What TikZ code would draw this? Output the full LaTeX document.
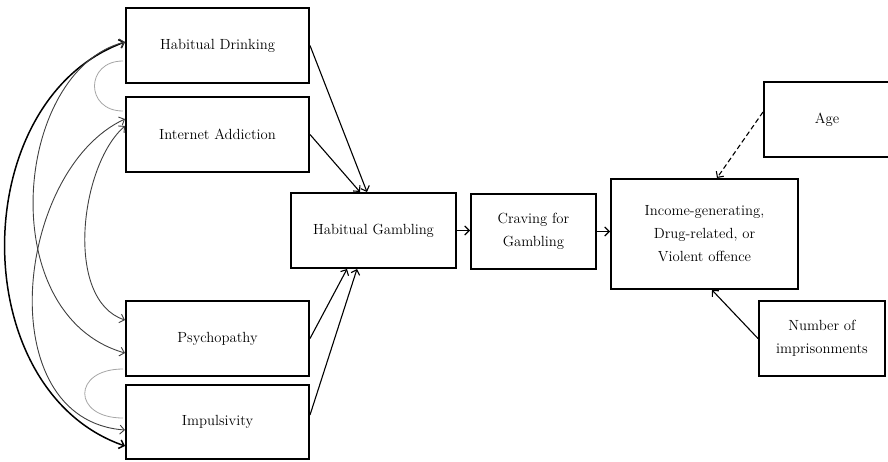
\documentclass[tikz,border=0pt]{standalone}
\usetikzlibrary{positioning,arrows.meta}

\begin{document}
\begin{tikzpicture}[
    x=1pt, y=-1pt, font=\fontsize{14.7}{23}\selectfont,
    >={Straight Barb[length=4.5pt,width=9pt]},
    box/.style={draw, line width=2pt, align=center, inner sep=0, minimum height=75},
    path/.style={->, line width=1.1pt},
    corr/.style={<->, line width=0.9pt, black!75},
    covar/.style={line width=0.8pt, black!35, shorten <=2, shorten >=2},
  ]
  \useasboundingbox (0,0) rectangle (888,461);

  % predictors
  \node[box, minimum width=183] (drink) at (217.5,45.5) {Habitual Drinking};
  \node[box, minimum width=183] (inet) at (217.5,134.5) {Internet Addiction};
  \node[box, minimum width=183] (psy) at (217.5,338.5) {Psychopathy};
  \node[box, minimum width=183, minimum height=74] (imp) at (217.5,422) {Impulsivity};

  \node[box, minimum width=165] (gamb) at (373.5,230.5) {Habitual Gambling};
  \node[box, minimum width=125] (crave) at (533.5,231.5) {Craving for\\Gambling};
  \node[box, minimum width=187, minimum height=110] (off) at (704.5,234)
    {Income-generating,\\Drug-related, or\\Violent offence};

  % covariates
  \node[box, minimum width=126] (age) at (827,119.5) {Age};
  \node[box, minimum width=126] (nimp) at (822,338.5) {Number of\\imprisonments};

  \draw[path] (drink.east) -- ([xshift=-6.5pt]gamb.north);
  \draw[path] (inet.east) -- ([xshift=-13.5pt]gamb.north);
  \draw[path] (psy.east) -- ([xshift=-26.5pt]gamb.south);
  \draw[path] ([yshift=7pt]imp.east) -- ([xshift=-16.5pt]gamb.south);
  \draw[path] (gamb.east) -- (gamb.east -| crave.west);
  \draw[path] (crave.east) -- (crave.east -| off.west);
  \draw[path, dashed, dash pattern=on 5pt off 3pt] ([yshift=7.5pt]age.west) -- ([xshift=12.5pt]off.north);
  \draw[path] (nimp.west) -- ([xshift=7.5pt]off.south);

  % correlations
  \draw[corr, line width=1.5pt, black] ([yshift=3.5pt]drink.west) .. controls +(-159,58) and +(-161,-56) .. ([yshift=-24pt]imp.west);
  \draw[corr] ([yshift=3.5pt]drink.west) .. controls +(-111,28) and +(-133,-38) .. ([yshift=-14.5pt]psy.west);
  \draw[corr] ([yshift=15.5pt]inet.west) .. controls +(-110,51) and +(-136,-10) .. ([yshift=-8pt]imp.west);
  \draw[corr] ([yshift=8.5pt]inet.west) .. controls +(-45,39) and +(-61,-20) .. ([yshift=18.5pt]psy.west);
  \draw[covar] ([yshift=-15.5pt]drink.west) .. controls +(-40,0) and +(-40,0) .. ([yshift=23.5pt]inet.west);
  \draw[covar] ([yshift=-30.5pt]psy.west) .. controls +(-53,0) and +(-53,0) .. ([yshift=4pt]imp.west);

\end{tikzpicture}
\end{document}
